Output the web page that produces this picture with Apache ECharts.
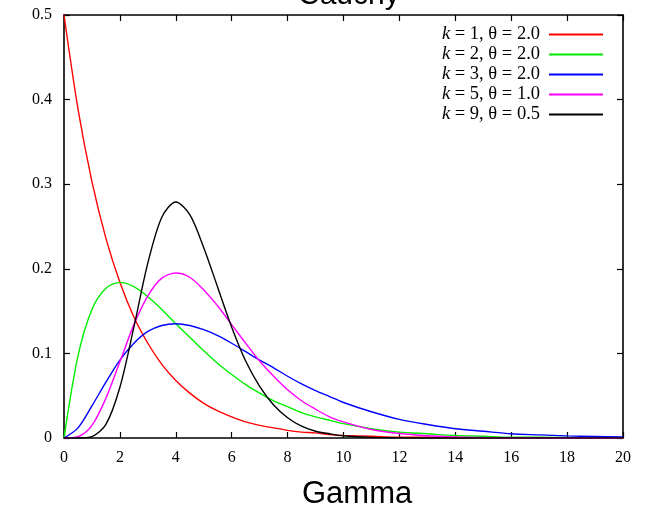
<!DOCTYPE html>
<html><head><meta charset="utf-8">
<script src="https://cdn.jsdelivr.net/npm/echarts@6/dist/echarts.min.js"></script>
<style>html,body{margin:0;padding:0;background:#fff}#c{width:648px;height:510px}</style>
</head><body><div id="c"></div>
<script>
const xs = [0,0.5,1,1.5,2,2.5,3,3.5,4,4.5,5,5.5,6,6.5,7,7.5,8,8.5,9,9.5,10,11,12,13,14,15,16,17,18,19,20];
const k1 = [0.5,0.389,0.303,0.236,0.184,0.143,0.112,0.087,0.068,0.053,0.041,0.032,0.025,0.019,0.015,0.012,0.009,0.007,0.006,0.004,0.003,0.002,0.001,0.001,0.0005,0.0003,0.0002,0.0001,0.0001,0,0];
const k2 = [0,0.097,0.152,0.177,0.184,0.179,0.167,0.152,0.135,0.119,0.103,0.088,0.075,0.063,0.053,0.044,0.037,0.030,0.025,0.021,0.017,0.011,0.007,0.005,0.003,0.002,0.001,0.001,0.0006,0.0004,0.0002];
const k3 = [0,0.012,0.038,0.066,0.092,0.112,0.126,0.133,0.135,0.133,0.128,0.121,0.112,0.102,0.092,0.083,0.073,0.064,0.056,0.049,0.042,0.031,0.022,0.016,0.011,0.008,0.005,0.0037,0.0025,0.0017,0.0011];
const k5 = [0,0.0016,0.015,0.047,0.090,0.134,0.168,0.189,0.195,0.190,0.175,0.156,0.134,0.112,0.091,0.073,0.057,0.044,0.034,0.025,0.019,0.010,0.0053,0.0027,0.0013,0.0006,0.0003,0.0001,0,0,0];
const k9 = [0,0,0.0017,0.016,0.060,0.131,0.207,0.261,0.279,0.264,0.225,0.178,0.131,0.091,0.061,0.039,0.024,0.014,0.008,0.005,0.0026,0.0007,0.0002,0,0,0,0,0,0,0,0];
const seriesNames = ['{i|k} = 1, θ = 2.0','{i|k} = 2, θ = 2.0','{i|k} = 3, θ = 2.0','{i|k} = 5, θ = 1.0','{i|k} = 9, θ = 0.5'];
const seriesData = [k1,k2,k3,k5,k9];
const colors = ['#ff0000','#00ee00','#0000ff','#ff00ff','#000000'];
const xTicks = [0,2,4,6,8,10,12,14,16,18,20];
const yTicks = [0,0.1,0.2,0.3,0.4,0.5];

const chart = echarts.init(document.getElementById('c'));
const serif = 'Liberation Serif';
const axisCommon = {
  axisLine:{show:true,onZero:false,lineStyle:{color:'#000',width:1.6}},
  axisTick:{show:true,inside:true,length:6,lineStyle:{color:'#000',width:1.2}},
  splitLine:{show:false}
};
chart.setOption({
  animation:false,
  backgroundColor:'#fff',
  color:colors,
  grid:{left:64,right:25,top:15,bottom:72},
  graphic:[
    {type:'text',left:298,top:-19,style:{text:'Cauchy',font:'30px "Liberation Sans"',fill:'#000'}},
    {type:'text',left:302,top:479,style:{text:'Gamma',font:'31px "Liberation Sans"',fill:'#000'}}
  ],
  legend:{
    orient:'vertical',right:40,top:20,align:'right',itemWidth:54,itemHeight:2,itemGap:1,
    icon:'rect',
    textStyle:{fontFamily:serif,fontSize:18.5,color:'#000',lineHeight:18,padding:[0,4,0,0],rich:{i:{fontStyle:'italic',fontFamily:serif,fontSize:18.5}}},
    data:seriesNames
  },
  xAxis:[
    Object.assign({type:'value',min:0,max:20,interval:2,position:'bottom',
      axisLabel:{fontFamily:serif,fontSize:16,color:'#000',margin:12}},axisCommon),
    Object.assign({type:'value',min:0,max:20,interval:2,position:'top',axisLabel:{show:false}},axisCommon)
  ],
  yAxis:[
    Object.assign({type:'value',min:0,max:0.5,interval:0.1,position:'left',
      axisLabel:{fontFamily:serif,fontSize:16,color:'#000',margin:12}},axisCommon),
    Object.assign({type:'value',min:0,max:0.5,interval:0.1,position:'right',axisLabel:{show:false}},axisCommon)
  ],
  series: seriesData.map((d,i)=>({
    name:seriesNames[i],type:'line',smooth:0.3,showSymbol:false,symbol:'none',
    xAxisIndex:0,yAxisIndex:0,
    lineStyle:{color:colors[i],width:1.4},
    data: xs.map((x,j)=>[x,d[j]])
  }))
});
</script></body></html>
